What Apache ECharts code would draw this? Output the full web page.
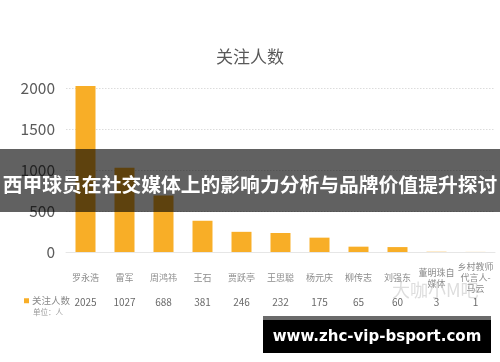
<!DOCTYPE html>
<html>
<head>
<meta charset="utf-8">
<script src="https://cdn.jsdelivr.net/npm/echarts@6/dist/echarts.min.js"></script>
<style>html,body{margin:0;padding:0;background:#fff;}#c{width:500px;height:362px;}</style>
</head>
<body>
<div id="c"></div>
<script>
const categories = ['罗永浩','雷军','周鸿祎','王石','贾跃亭','王思聪','杨元庆','柳传志','刘强东','董明珠自媒体','乡村教师代言人-马云'];
const followers = [2025, 1027, 688, 381, 246, 232, 175, 65, 60, 3, 1];
const yTicks = [0, 500, 1000, 1500, 2000];
const seriesName = '关注人数';
const unitText = '单位：人';
const bannerText = '西甲球员在社交媒体上的影响力分析与品牌价值提升探讨';
const siteText = 'www.zhc-vip-bsport.com';
const watermarkText = '大咖小M吧';

const FONT = '"Noto Sans CJK SC", "Noto Sans", sans-serif';
const chart = echarts.init(document.getElementById('c'), null, {renderer: 'canvas'});
chart.setOption({
  animation: false,
  backgroundColor: '#fff',
  textStyle: {fontFamily: FONT},
  title: {
    text: seriesName, left: 'center', top: 43,
    textStyle: {fontSize: 17, fontWeight: 'normal', color: '#595959', fontFamily: FONT}
  },
  legend: {
    data: [seriesName], left: 19, top: 291, icon: 'rect', itemWidth: 5, itemHeight: 5, itemGap: 2,
    textStyle: {fontSize: 9.5, color: '#8a8a8a', fontFamily: FONT, padding: [0,0,0,-2]}
  },
  grid: {left: 66, right: 5, top: 88, bottom: 110},
  xAxis: [{
    type: 'category', data: categories,
    axisLine: {show: true, lineStyle: {color: '#e6e6e6'}},
    axisTick: {show: false},
    axisLabel: {
      interval: 0, fontSize: 9, color: '#8c8c8c', fontFamily: FONT,
      width: 37, overflow: 'break', lineHeight: 11,
      verticalAlign: 'middle', margin: 26
    }
  }, {
    type: 'category', data: followers.map(String), position: 'bottom', offset: 37,
    axisLine: {show: false}, axisTick: {show: false},
    axisLabel: {interval: 0, fontSize: 10, color: '#6a6a6a', margin: 8, fontFamily: FONT}
  }],
  yAxis: {
    type: 'value', min: yTicks[0], max: yTicks[yTicks.length-1], interval: yTicks[1]-yTicks[0],
    axisLine: {show: false}, axisTick: {show: false},
    axisLabel: {fontSize: 15.5, color: '#5a5a5a', margin: 11, fontFamily: FONT,
                formatter: function (v) { return String(v); }},
    splitLine: {show: true, lineStyle: {color: '#dcdcdc', type: [1.5, 1.5], width: 1}}
  },
  series: [{
    name: seriesName, type: 'bar', data: followers, barWidth: 20, clip: false,
    itemStyle: {color: '#F8AE27'}
  }],
  graphic: [
    {type: 'text', z: 90, left: 392, top: 281,
     style: {text: watermarkText, fontSize: 18, fill: 'rgba(170,170,170,0.4)', fontFamily: FONT}},
    {type: 'text', z: 90, left: 33, top: 308,
     style: {text: unitText, fontSize: 7.5, fill: '#999', fontFamily: FONT}},
    {type: 'rect', z: 100, shape: {x: 0, y: 149, width: 500, height: 63},
     style: {fill: 'rgba(0,0,0,0.62)'}},
    {type: 'text', z: 101, x: 250, y: 184,
     style: {text: bannerText, fontSize: 19.8, fontWeight: 'bold', fill: '#fff', fontFamily: FONT,
             align: 'center', verticalAlign: 'middle'}},
    {type: 'rect', z: 100, shape: {x: 263, y: 316, width: 228, height: 4}, style: {fill: '#6b6b6b'}},
    {type: 'rect', z: 100, shape: {x: 263, y: 320, width: 228, height: 33}, style: {fill: '#000'}},
    {type: 'text', z: 101, x: 377, y: 337,
     style: {text: siteText, fontSize: 15, fontWeight: 'bold', fill: '#fff',
             fontFamily: '"DejaVu Sans", sans-serif', align: 'center', verticalAlign: 'middle'}}
  ]
});
</script>
</body>
</html>
